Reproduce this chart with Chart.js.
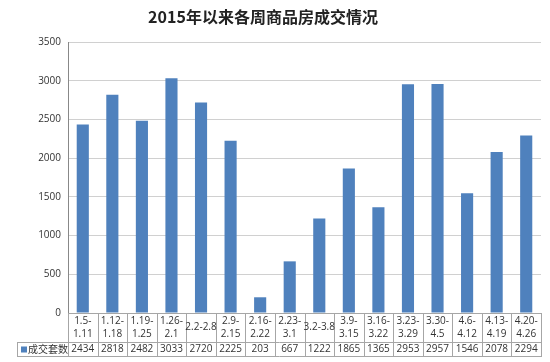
<!DOCTYPE html>
<html>
<head>
<meta charset="utf-8">
<script src="https://cdn.jsdelivr.net/npm/chart.js@4/dist/chart.umd.min.js"></script>
<style>
html,body{margin:0;padding:0;background:#fff;}
#wrap{width:550px;height:362px;position:relative;}
</style>
</head>
<body>
<div id="wrap"><canvas id="c" width="550" height="362"></canvas></div>
<script>
const titleText = '2015年以来各周商品房成交情况';
const seriesName = '成交套数';
const weekLabels = [
  ['1.5-','1.11'], ['1.12-','1.18'], ['1.19-','1.25'], ['1.26-','2.1'],
  ['2.2-2.8'], ['2.9-','2.15'], ['2.16-','2.22'], ['2.23-','3.1'],
  ['3.2-3.8'], ['3.9-','3.15'], ['3.16-','3.22'], ['3.23-','3.29'],
  ['3.30-','4.5'], ['4.6-','4.12'], ['4.13-','4.19'], ['4.20-','4.26']
];
const salesCounts = [2434, 2818, 2482, 3033, 2720, 2225, 203, 667, 1222, 1865, 1365, 2953, 2957, 1546, 2078, 2294];
const yTicks = [0, 500, 1000, 1500, 2000, 2500, 3000, 3500];

const BAR = '#4f81bd';
const LINE = '#a6a6a6';
const numFont = '10px "Open Sans", "Liberation Sans", sans-serif';

const tablePlugin = {
  id: 'tablePlugin',
  afterDraw(chart) {
    const ctx = chart.ctx;
    const xs = chart.scales.x;
    const ca = chart.chartArea;
    const n = weekLabels.length;
    const step = (ca.right - ca.left) / n;
    const top = ca.bottom;
    const mid = xs.bottom;
    const bot = mid + 14;
    const legLeft = 17;
    ctx.save();
    // title
    ctx.fillStyle = '#222';
    ctx.font = 'bold 16px "Noto Sans CJK SC", sans-serif';
    ctx.textAlign = 'center';
    ctx.textBaseline = 'middle';
    ctx.fillText(titleText, 263, 17);
    // table lines
    ctx.strokeStyle = LINE;
    ctx.lineWidth = 1;
    ctx.beginPath();
    for (let i = 0; i <= n; i++) {
      const x = Math.round(ca.left + i * step) + 0.5;
      ctx.moveTo(x, top);
      ctx.lineTo(x, bot);
    }
    ctx.moveTo(legLeft + 0.5, mid);
    ctx.lineTo(legLeft + 0.5, bot);
    ctx.moveTo(legLeft, Math.round(mid) + 0.5);
    ctx.lineTo(ca.right + 1, Math.round(mid) + 0.5);
    ctx.moveTo(legLeft, Math.round(bot) + 0.5);
    ctx.lineTo(ca.right + 1, Math.round(bot) + 0.5);
    ctx.stroke();
    // category labels
    ctx.fillStyle = '#333';
    ctx.font = numFont;
    ctx.textAlign = 'center';
    ctx.textBaseline = 'middle';
    const rowMid = (top + mid) / 2;
    weekLabels.forEach((lab, i) => {
      const x = xs.getPixelForValue(i);
      if (lab.length === 1) {
        ctx.fillText(lab[0], x, rowMid);
      } else {
        ctx.fillText(lab[0], x, rowMid - 6);
        ctx.fillText(lab[1], x, rowMid + 7);
      }
    });
    // values row
    const vMid = (mid + bot) / 2 + 0.5;
    salesCounts.forEach((v, i) => {
      ctx.fillText(String(v), xs.getPixelForValue(i), vMid);
    });
    // legend cell
    ctx.fillStyle = BAR;
    ctx.fillRect(21, vMid - 3, 6, 6);
    ctx.fillStyle = '#333';
    ctx.textAlign = 'left';
    ctx.font = '10px "Noto Sans CJK SC", sans-serif';
    ctx.fillText(seriesName, 28, vMid);
    ctx.restore();
  }
};

new Chart(document.getElementById('c'), {
  type: 'bar',
  data: {
    labels: weekLabels.map(l => l.join('')),
    datasets: [{
      label: seriesName,
      data: salesCounts,
      backgroundColor: BAR,
      borderWidth: 0,
      barPercentage: 0.41,
      categoryPercentage: 1
    }]
  },
  options: {
    responsive: false,
    animation: false,
    devicePixelRatio: 1,
    layout: { padding: { top: 42, right: 9, bottom: 20, left: 0 } },
    plugins: { legend: { display: false }, title: { display: false }, tooltip: { enabled: false } },
    scales: {
      x: {
        ticks: { display: false },
        grid: { display: false },
        border: { color: LINE },
        afterFit(s) { s.height = 29; }
      },
      y: {
        min: 0, max: 3500,
        afterBuildTicks(s) { s.ticks = yTicks.map(v => ({ value: v })); },
        ticks: {
          color: '#333',
          font: { size: 10, family: '"Open Sans", "Liberation Sans", sans-serif' },
          padding: 7,
          callback: v => String(v)
        },
        grid: { color: '#d0d0d0', drawTicks: false },
        border: { color: '#888' },
        afterFit(s) { s.width = 68; }
      }
    }
  },
  plugins: [tablePlugin]
});
</script>
</body>
</html>
